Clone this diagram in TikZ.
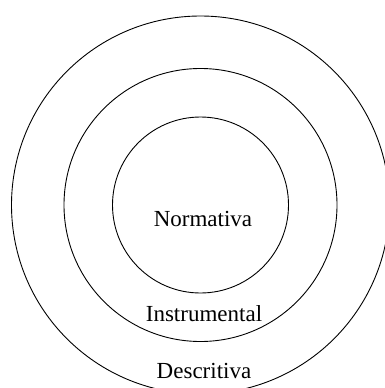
\documentclass[tikz,border=0pt]{standalone}
\usepackage{fontspec}
\setmainfont{Liberation Serif}
\usepackage{tikz}
\tikzset{
  ring/.style={
    shape = circle,
    draw,
    line width = 0.9pt,
    inner sep = 0pt
  },
  label/.style={
    inner sep = 0pt,
    anchor = base,
    font = \fontsize{23}{27}\selectfont
  }
}
\begin{document}
\begin{tikzpicture}[x=1pt,y=-1pt]
        \useasboundingbox (0,0) rectangle (385,388);
        \coordinate (c) at (200.5,205);
        \node[ring, minimum size=378pt] (outer) at (c) {};
        \node[ring, minimum size=273pt] (middle) at (c) {};
        \node[ring, minimum size=176pt] (inner) at (c) {};
        \node[label] (norm) at (203,226) {Normativa};
        \node[label] (instr) at (204,321) {Instrumental};
        \node[label] (desc) at (204,378) {Descritiva};
    \end{tikzpicture}
\end{document}
